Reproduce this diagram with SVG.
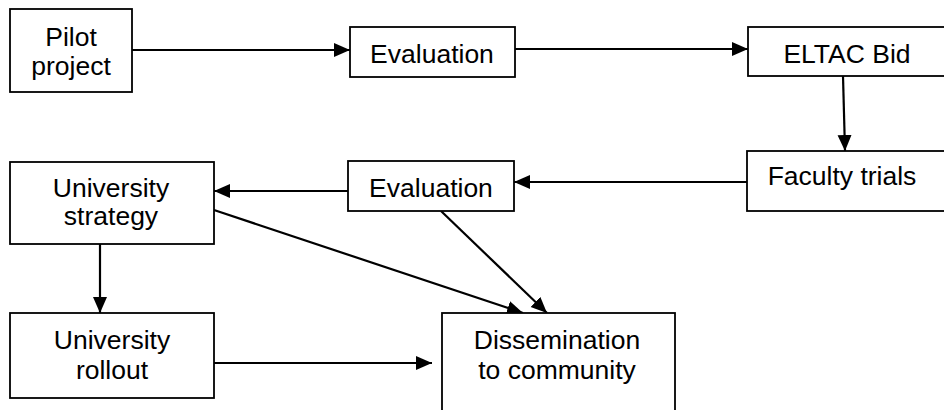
<svg xmlns="http://www.w3.org/2000/svg" width="944" height="410" viewBox="0 0 944 410">
<defs>
<marker id="arr" markerUnits="userSpaceOnUse" markerWidth="17" markerHeight="15" refX="16" refY="7" orient="auto">
<path d="M0,0 L16,7 L0,14 z" fill="#000"/>
</marker>
<style>
.box{fill:#fff;stroke:#000;stroke-width:1.8}
.t{font-family:"Liberation Sans",Arial,sans-serif;font-size:26.5px;fill:#000;text-anchor:middle}
.c{stroke:#000;stroke-width:2.2;fill:none;marker-end:url(#arr)}
</style>
</defs>
<rect width="944" height="410" fill="#fff"/>
<g id="connectors">
<line class="c" x1="132" y1="50" x2="350" y2="50"/>
<line class="c" x1="515" y1="49" x2="748" y2="49"/>
<line class="c" x1="843" y1="76" x2="845" y2="151"/>
<line class="c" x1="747" y1="182" x2="514" y2="182"/>
<line class="c" x1="348" y1="191" x2="214" y2="191"/>
<line class="c" x1="100" y1="244" x2="100" y2="313"/>
<line class="c" x1="214" y1="210" x2="523" y2="313"/>
<line class="c" x1="441" y1="211" x2="547" y2="313"/>
<line class="c" x1="214" y1="363" x2="432" y2="363"/>
</g>
<g id="pilot">
<rect class="box" x="10" y="9" width="122" height="83"/>
<text class="t" x="71" y="46">Pilot</text>
<text class="t" x="71" y="75">project</text>
</g>
<g id="evaluation1">
<rect class="box" x="350" y="27" width="165" height="50"/>
<text class="t" x="432" y="63">Evaluation</text>
</g>
<g id="eltac">
<rect class="box" x="748" y="27" width="200" height="49"/>
<text class="t" x="847" y="63">ELTAC Bid</text>
</g>
<g id="faculty">
<rect class="box" x="747" y="151" width="200" height="60"/>
<text class="t" x="842" y="185">Faculty trials</text>
</g>
<g id="evaluation2">
<rect class="box" x="348" y="161" width="166" height="50"/>
<text class="t" x="431" y="197">Evaluation</text>
</g>
<g id="unistrategy">
<rect class="box" x="10" y="162" width="204" height="82"/>
<text class="t" x="111" y="197">University</text>
<text class="t" x="111" y="225">strategy</text>
</g>
<g id="unirollout">
<rect class="box" x="10" y="313" width="204" height="85"/>
<text class="t" x="112" y="349">University</text>
<text class="t" x="112" y="379">rollout</text>
</g>
<g id="dissemination">
<rect class="box" x="442" y="313" width="233" height="110"/>
<text class="t" x="557" y="349">Dissemination</text>
<text class="t" x="557" y="379">to community</text>
</g>
</svg>
